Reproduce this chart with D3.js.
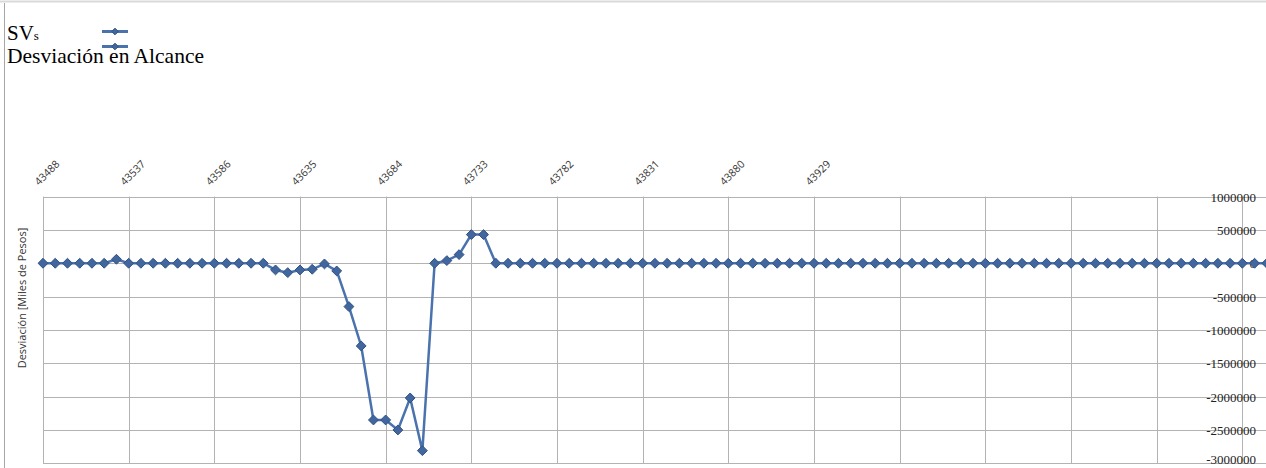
<!DOCTYPE html>
<html><head><meta charset="utf-8">
<script src="https://cdn.jsdelivr.net/npm/d3@7"></script>
<style>body{margin:0;background:#fff;}svg{display:block;}</style>
</head><body>
<svg id="c" width="1266" height="468"></svg>
<script>
const dates = [43488,43495,43502,43509,43516,43523,43530,43537,43544,43551,43558,43565,43572,43579,43586,43593,43600,43607,43614,43621,43628,43635,43642,43649,43656,43663,43670,43677,43684,43691,43698,43705,43712,43719,43726,43733,43740,43747,43754,43761,43768,43775,43782,43789,43796,43803,43810,43817,43824,43831,43838,43845,43852,43859,43866,43873,43880,43887,43894,43901,43908,43915,43922,43929,43936,43943,43950,43957,43964,43971,43978,43985,43992,43999,44006,44013,44020,44027,44034,44041,44048,44055,44062,44069,44076,44083,44090,44097,44104,44111,44118,44125,44132,44139,44146,44153,44160,44167,44174,44181,44188];
const values = [0,0,0,0,0,0,60000,0,0,0,0,0,0,0,0,0,0,0,0,-100000,-140000,-100000,-90000,-10000,-115000,-650000,-1240000,-2350000,-2350000,-2500000,-2020000,-2810000,0,40000,130000,430000,430000,0,0,0,0,0,0,0,0,0,0,0,0,0,0,0,0,0,0,0,0,0,0,0,0,0,0,0,0,0,0,0,0,0,0,0,0,0,0,0,0,0,0,0,0,0,0,0,0,0,0,0,0,0,0,0,0,0,0,0,0,0,0,0,0];
const xGridTicks = [43488,43537,43586,43635,43684,43733,43782,43831,43880,43929,43978,44027,44076,44125,44174];
const xTickLabels = ["43488","43537","43586","43635","43684","43733","43782","43831","43880","43929"];
const yTicks = [1000000,500000,0,-500000,-1000000,-1500000,-2000000,-2500000,-3000000];
const legendLabels = ["SV","Desviación en Alcance"];
const yTitle = "Desviación [Miles de Pesos]";

const svg = d3.select("#c");
const W = 1266, H = 468;
const x = d3.scaleLinear().domain([43488, 43929]).range([43, 814]);
const y = d3.scaleLinear().domain([-3000000, 1000000]).range([463.3, 196.6]);
const lineColor = "#4a72ad", markFill = "#41679e", markStroke = "#2f5283";

// frame
svg.append("line").attr("x1",0).attr("x2",W).attr("y1",1.5).attr("y2",1.5).attr("stroke","#d9d9d9").attr("stroke-width",2);
svg.append("line").attr("x1",4.5).attr("x2",4.5).attr("y1",3).attr("y2",H).attr("stroke","#a6a6a6").attr("stroke-width",1);

// horizontal gridlines
svg.append("g").selectAll("line").data(yTicks).join("line")
  .attr("x1", x(43488)).attr("x2", W)
  .attr("y1", d=>Math.round(y(d))+0.5).attr("y2", d=>Math.round(y(d))+0.5)
  .attr("stroke","#b3b3b3").attr("stroke-width",1);
// vertical gridlines
svg.append("g").selectAll("line").data(xGridTicks).join("line")
  .attr("x1", d=>Math.round(x(d))+0.5).attr("x2", d=>Math.round(x(d))+0.5)
  .attr("y1", y(1000000)).attr("y2", y(-3000000))
  .attr("stroke","#b3b3b3").attr("stroke-width",1);

// top axis labels
svg.append("g").selectAll("text").data(xTickLabels).join("text")
  .attr("transform", d=>`translate(${x(+d)-4},${186}) rotate(-45)`)
  .attr("font-family","'Open Sans', 'Liberation Sans', sans-serif").attr("font-size",10.5)
  .attr("fill","#333").text(d=>d);

// right axis labels
svg.append("g").selectAll("text").data(yTicks).join("text")
  .attr("x", 1256).attr("y", d=>Math.min(y(d)+5, 464))
  .attr("text-anchor","end")
  .attr("font-family","'Liberation Serif', 'Times New Roman', serif").attr("font-size",13)
  .attr("fill","#222").text(d=>d);

// y title
svg.append("text").attr("transform","translate(26,298) rotate(-90)")
  .attr("text-anchor","middle")
  .attr("font-family","'Open Sans', 'Liberation Sans', sans-serif").attr("font-size",11)
  .attr("fill","#333").text(yTitle);

// data
const pts = dates.map((d,i)=>({d, v: values[i]}));
svg.append("path").datum(pts)
  .attr("d", d3.line().x(p=>x(p.d)).y(p=>y(p.v)))
  .attr("fill","none").attr("stroke",lineColor).attr("stroke-width",2.5);
const diamond = d3.symbol().type(d3.symbolDiamond2).size(62);
svg.append("g").selectAll("path").data(pts).join("path")
  .attr("transform", p=>`translate(${x(p.d)},${y(p.v)})`)
  .attr("d", diamond)
  .attr("fill", markFill).attr("stroke", markStroke).attr("stroke-width",1);

// legend
const lg = svg.append("g");
const t1 = lg.append("text").attr("x",7).attr("y",40)
  .attr("font-family","'Liberation Serif', 'Times New Roman', serif").attr("font-size",21).attr("fill","#000");
t1.append("tspan").text(legendLabels[0]);
t1.append("tspan").attr("font-size",13).text("s");
lg.append("text").attr("x",7).attr("y",63)
  .attr("font-family","'Liberation Serif', 'Times New Roman', serif").attr("font-size",21.5).attr("fill","#000")
  .text(legendLabels[1]);
[31.5, 46.5].forEach(yy=>{
  lg.append("line").attr("x1",102).attr("x2",128).attr("y1",yy).attr("y2",yy).attr("stroke",lineColor).attr("stroke-width",3);
  lg.append("path").attr("transform",`translate(115,${yy})`).attr("d", d3.symbol().type(d3.symbolDiamond2).size(28))
    .attr("fill",markFill).attr("stroke",markStroke).attr("stroke-width",1);
});
</script>
</body></html>
